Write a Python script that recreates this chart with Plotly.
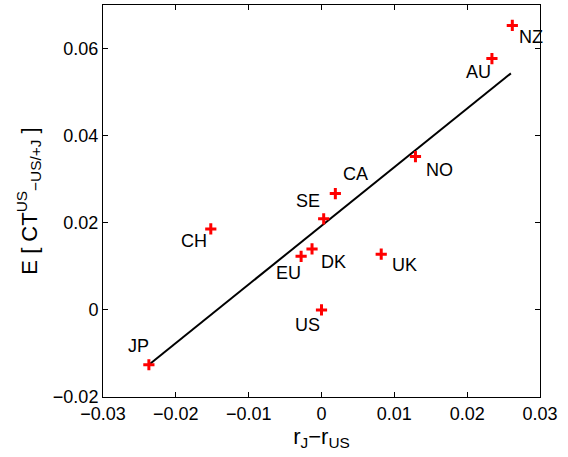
import plotly.graph_objects as go

# Data
countries = ["NZ", "AU", "NO", "CA", "SE", "CH", "DK", "EU", "UK", "US", "JP"]
rate_diff = [0.0262, 0.0234, 0.0129, 0.0019, 0.0003, -0.0152, -0.0013, -0.0028, 0.0082, 0.0000, -0.0237]
expected_ct = [0.0653, 0.0577, 0.0352, 0.0267, 0.0209, 0.0186, 0.0140, 0.0123, 0.0128, 0.0000, -0.0126]

fit_x = [-0.0237, 0.0260]
fit_y = [-0.0126, 0.0543]

x_ticks = [-0.03, -0.02, -0.01, 0, 0.01, 0.02, 0.03]
x_tick_labels = ["\u22120.03", "\u22120.02", "\u22120.01", "0", "0.01", "0.02", "0.03"]
y_ticks = [-0.02, 0, 0.02, 0.04, 0.06]
y_tick_labels = ["\u22120.02", "0", "0.02", "0.04", "0.06"]

# label offsets in pixels (x right, y up)
label_offsets = {
    "NZ": (19, -12), "AU": (-13, -13), "NO": (24, -13), "CA": (20, 20),
    "SE": (-16, 18), "CH": (-17, -12), "DK": (21, -13), "EU": (-13, -17),
    "UK": (23, -11), "US": (-14, -15), "JP": (-10, 19),
}

FONT = "Liberation Sans, Arial, Helvetica, sans-serif"

fig = go.Figure()
fig.add_trace(go.Scatter(
    x=fit_x, y=fit_y, mode="lines",
    line=dict(color="black", width=2), showlegend=False, hoverinfo="skip",
))
fig.add_trace(go.Scatter(
    x=rate_diff, y=expected_ct, mode="markers",
    marker=dict(symbol="cross-thin", size=8, line=dict(color="#ff0000", width=3)),
    showlegend=False,
))

for c, xv, yv in zip(countries, rate_diff, expected_ct):
    dx, dy = label_offsets[c]
    fig.add_annotation(
        x=xv, y=yv, xref="x", yref="y", text=c, showarrow=False,
        xshift=dx, yshift=dy, font=dict(family=FONT, size=18, color="black"),
    )

axis_common = dict(
    showgrid=False, zeroline=False, showline=True, linecolor="black", linewidth=1,
    mirror="ticks", ticks="inside", ticklen=5, tickcolor="black", tickwidth=1,
    tickfont=dict(family=FONT, size=18, color="black"), automargin=False,
)

fig.update_xaxes(
    range=[-0.03, 0.03], tickvals=x_ticks, ticktext=x_tick_labels,
    title=dict(text="r<sub>J</sub>\u2212r<sub>US</sub>", font=dict(family=FONT, size=22, color="black"), standoff=4),
    **axis_common,
)
fig.update_yaxes(
    range=[-0.02, 0.07], tickvals=y_ticks, ticktext=y_tick_labels,
    title=dict(text="E [ CT<sup>US</sup><sub>\u2212US/+J</sub> ]", font=dict(family=FONT, size=22, color="black"), standoff=9),
    **axis_common,
)

fig.update_layout(
    width=568, height=457,
    margin=dict(l=103, r=28, t=5, b=60),
    paper_bgcolor="white", plot_bgcolor="white",
    font=dict(family=FONT, color="black"),
)

fig.write_html(
    "out.html",
    config={"displayModeBar": False},
    post_script="document.body.style.margin='0';document.body.style.padding='0';",
)
